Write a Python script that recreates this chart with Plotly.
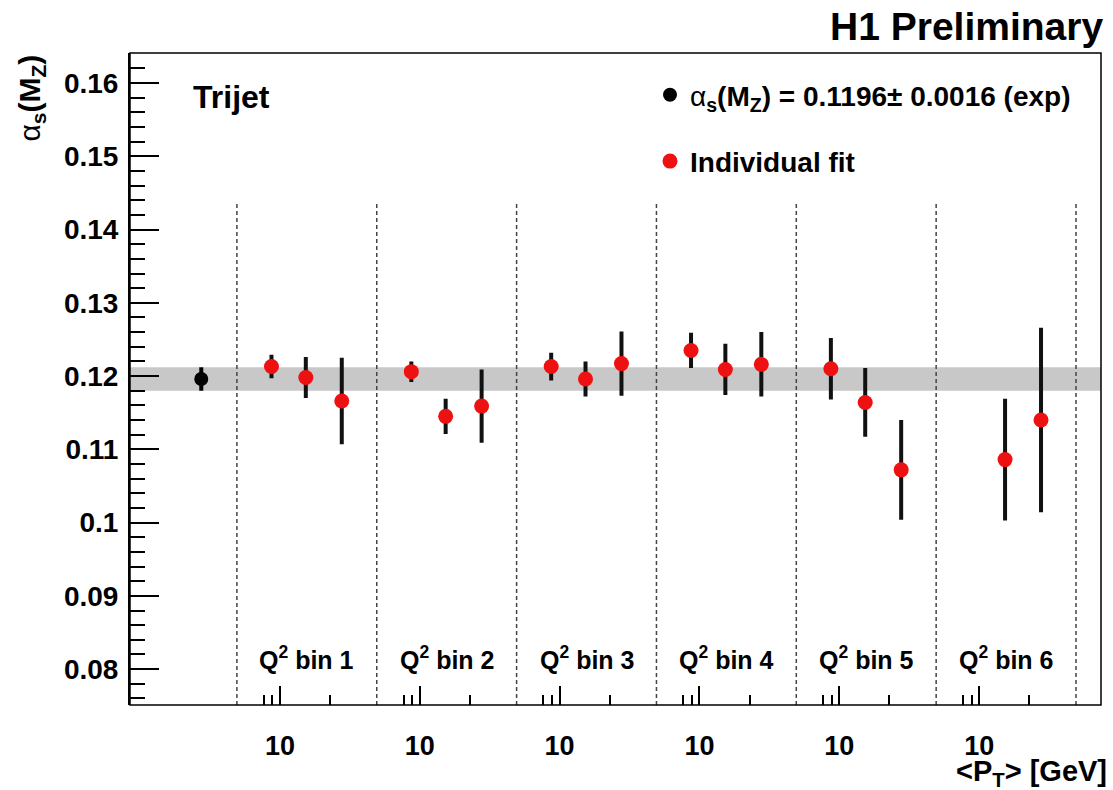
import math
import plotly.graph_objects as go

# --- values -----------------------------------------------------------
q2_bins = ["Q<sup>2</sup> bin 1", "Q<sup>2</sup> bin 2", "Q<sup>2</sup> bin 3",
           "Q<sup>2</sup> bin 4", "Q<sup>2</sup> bin 5", "Q<sup>2</sup> bin 6"]
pt_mean = [8.9, 14.3, 23.5]          # <P_T> in GeV for the three P_T bins

alpha_fit = [
    [0.1213, 0.1198, 0.1166],
    [0.1206, 0.1145, 0.1159],
    [0.1213, 0.1196, 0.1217],
    [0.1235, 0.1209, 0.1216],
    [0.1210, 0.1164, 0.1072],
    [None,   0.1086, 0.1140],
]
alpha_err = [
    [0.0016, 0.0028, 0.0059],
    [0.0014, 0.0024, 0.0050],
    [0.0019, 0.0024, 0.0044],
    [0.0024, 0.0035, 0.0044],
    [0.0042, 0.0047, 0.0068],
    [None,   0.0083, 0.0126],
]

alpha_comb = 0.1196
alpha_comb_err = 0.0016

y_ticks = [0.08, 0.09, 0.10, 0.11, 0.12, 0.13, 0.14, 0.15, 0.16]
y_tick_text = ["0.08", "0.09", "0.1", "0.11", "0.12", "0.13", "0.14", "0.15", "0.16"]
x_ticks = [8, 9, 10, 20]
x_tick_text = ["", "", "10", ""]
x_long_tick = [10]

# --- styling ----------------------------------------------------------
FONT = "Liberation Sans"
RED = "#ee1111"
W, H = 1113, 790
ML, MR, MT, MB = 130, 12, 53, 85
plot_w = W - ML - MR
plot_h = H - MT - MB
first_w = 106.9 / plot_w          # region of the combined value
seg_w = 139.85 / plot_w           # one Q^2 bin
y_range = [0.0751, 0.1641]
pt_range = [math.log10(5.52), math.log10(38.1)]
dash_top = 0.1436
n_bins = len(q2_bins)

fig = go.Figure()

# combined fit result
fig.add_trace(go.Scatter(
    x=[1], y=[alpha_comb], xaxis="x", yaxis="y", mode="markers",
    name='<span style="font-weight:normal">α</span><sub>s</sub>(M<sub>Z</sub>) = 0.1196± 0.0016 (exp)',
    legendgroup="comb",
    marker=dict(color="black", size=14),
    error_y=dict(type="data", array=[alpha_comb_err], color="black", thickness=4, width=0),
))

# individual fits, one log P_T axis per Q^2 bin
for i in range(n_bins):
    xs = [p for p, a in zip(pt_mean, alpha_fit[i]) if a is not None]
    ys = [a for a in alpha_fit[i] if a is not None]
    es = [e for e in alpha_err[i] if e is not None]
    fig.add_trace(go.Scatter(
        x=xs, y=ys, xaxis=f"x{i + 2}", yaxis="y", mode="markers",
        name="Individual fit", legendgroup="indiv", showlegend=(i == 0),
        marker=dict(color=RED, size=15),
        error_y=dict(type="data", array=es, color="#111111", thickness=4, width=0),
    ))
    # empty companion trace so the overlaid decade-tick axis gets drawn
    fig.add_trace(go.Scatter(
        x=xs, y=ys, xaxis=f"x{i + 2 + n_bins}", yaxis="y", mode="none",
        showlegend=False, hoverinfo="skip",
    ))

layout = dict(
    width=W, height=H,
    margin=dict(l=ML, r=MR, t=MT, b=MB),
    paper_bgcolor="white", plot_bgcolor="rgba(0,0,0,0)",
    font=dict(family=FONT, size=26, color="black", weight="bold"),
    showlegend=True,
    legend=dict(
        x=(650 - ML) / plot_w, y=1 - (70 - MT) / plot_h,
        xanchor="left", yanchor="top",
        bgcolor="rgba(0,0,0,0)", borderwidth=0,
        font=dict(family=FONT, size=28, weight="bold"),
        traceorder="grouped", tracegroupgap=27,
    ),
    yaxis=dict(
        range=y_range, anchor="x", showgrid=False, zeroline=False,
        showline=True, linecolor="black", linewidth=2,
        tickmode="array", tickvals=y_ticks, ticktext=y_tick_text,
        ticks="inside", ticklen=29, tickwidth=1.5, tickcolor="black",
        minor=dict(tickmode="linear", tick0=0.08, dtick=0.002, ticks="inside",
                   ticklen=15, tickwidth=1.5, tickcolor="black"),
        tickfont=dict(family=FONT, size=28, weight="bold"),
        ticklabelstandoff=4,
    ),
    xaxis=dict(
        domain=[0, first_w], range=[0, 1.5], anchor="y",
        showgrid=False, zeroline=False, showticklabels=False, ticks="",
        showline=False,
    ),
)

for i in range(n_bins):
    d0 = first_w + i * seg_w
    # short ticks + label
    layout[f"xaxis{i + 2}"] = dict(
        type="log", domain=[d0, d0 + seg_w], range=pt_range, anchor="y",
        showgrid=False, zeroline=False, showline=False,
        tickmode="array", tickvals=x_ticks, ticktext=x_tick_text,
        ticks="inside", ticklen=10, tickwidth=2, tickcolor="black",
        tickfont=dict(family=FONT, size=27, weight="bold"),
        ticklabelstandoff=22,
    )
    # long tick at the decade
    layout[f"xaxis{i + 2 + n_bins}"] = dict(
        type="log", overlaying=f"x{i + 2}", range=pt_range, anchor="y", side="bottom",
        showgrid=False, zeroline=False, showline=False, showticklabels=False,
        tickmode="array", tickvals=x_long_tick,
        ticks="inside", ticklen=19, tickwidth=2, tickcolor="black",
    )

fig.update_layout(**layout)

# grey band of the combined value
fig.add_shape(type="rect", xref="paper", yref="y", x0=0, x1=1,
              y0=alpha_comb - alpha_comb_err, y1=alpha_comb + alpha_comb_err,
              fillcolor="#c8c8c8", line=dict(width=0), layer="below")

# dashed separators between the Q^2 bins
for i in range(n_bins):
    fig.add_shape(type="line", xref=f"x{i + 2} domain", yref="y",
                  x0=0, x1=0, y0=y_range[0], y1=dash_top,
                  line=dict(color="#444444", width=1.5, dash="4px,3px"), layer="below")
fig.add_shape(type="line", xref=f"x{n_bins + 1} domain", yref="y",
              x0=1, x1=1, y0=y_range[0], y1=dash_top,
              line=dict(color="#444444", width=1.5, dash="4px,3px"), layer="below")

# frame
fig.add_shape(type="rect", xref="paper", yref="paper", x0=0, x1=1, y0=0, y1=1,
              line=dict(color="black", width=1.5), layer="above")

# Q^2 bin labels
for i, lab in enumerate(q2_bins):
    fig.add_annotation(text=lab, xref=f"x{i + 2} domain", yref="paper",
                       x=0.5, y=(705 - 658) / plot_h, xanchor="center", yanchor="middle",
                       showarrow=False, font=dict(family=FONT, size=25, weight="bold"))

fig.add_annotation(text="Trijet", xref="paper", yref="paper",
                   x=(191 - ML) / plot_w, y=1 - (97 - MT) / plot_h,
                   xanchor="left", yanchor="middle", showarrow=False,
                   font=dict(family=FONT, size=32, weight="bold"))

fig.add_annotation(text="H1 Preliminary", xref="paper", yref="paper",
                   x=1.0, y=1.0, xanchor="right", yanchor="bottom", yshift=3, xshift=4,
                   showarrow=False, font=dict(family=FONT, size=39, weight="bold"))

fig.add_annotation(text='<span style="font-weight:normal">α</span><sub>s</sub>(M<sub>Z</sub>)',
                   xref="paper", yref="paper", textangle=-90,
                   x=(31 - ML) / plot_w, y=1.0, xanchor="center", yanchor="top",
                   showarrow=False, font=dict(family=FONT, size=30, weight="bold"))

fig.add_annotation(text="<P<sub>T</sub>> [GeV]", xref="paper", yref="paper",
                   x=(1109 - ML) / plot_w, y=-(773 - (H - MB)) / plot_h,
                   xanchor="right", yanchor="middle", showarrow=False,
                   font=dict(family=FONT, size=29, weight="bold"))

fig.write_html("out.html")
